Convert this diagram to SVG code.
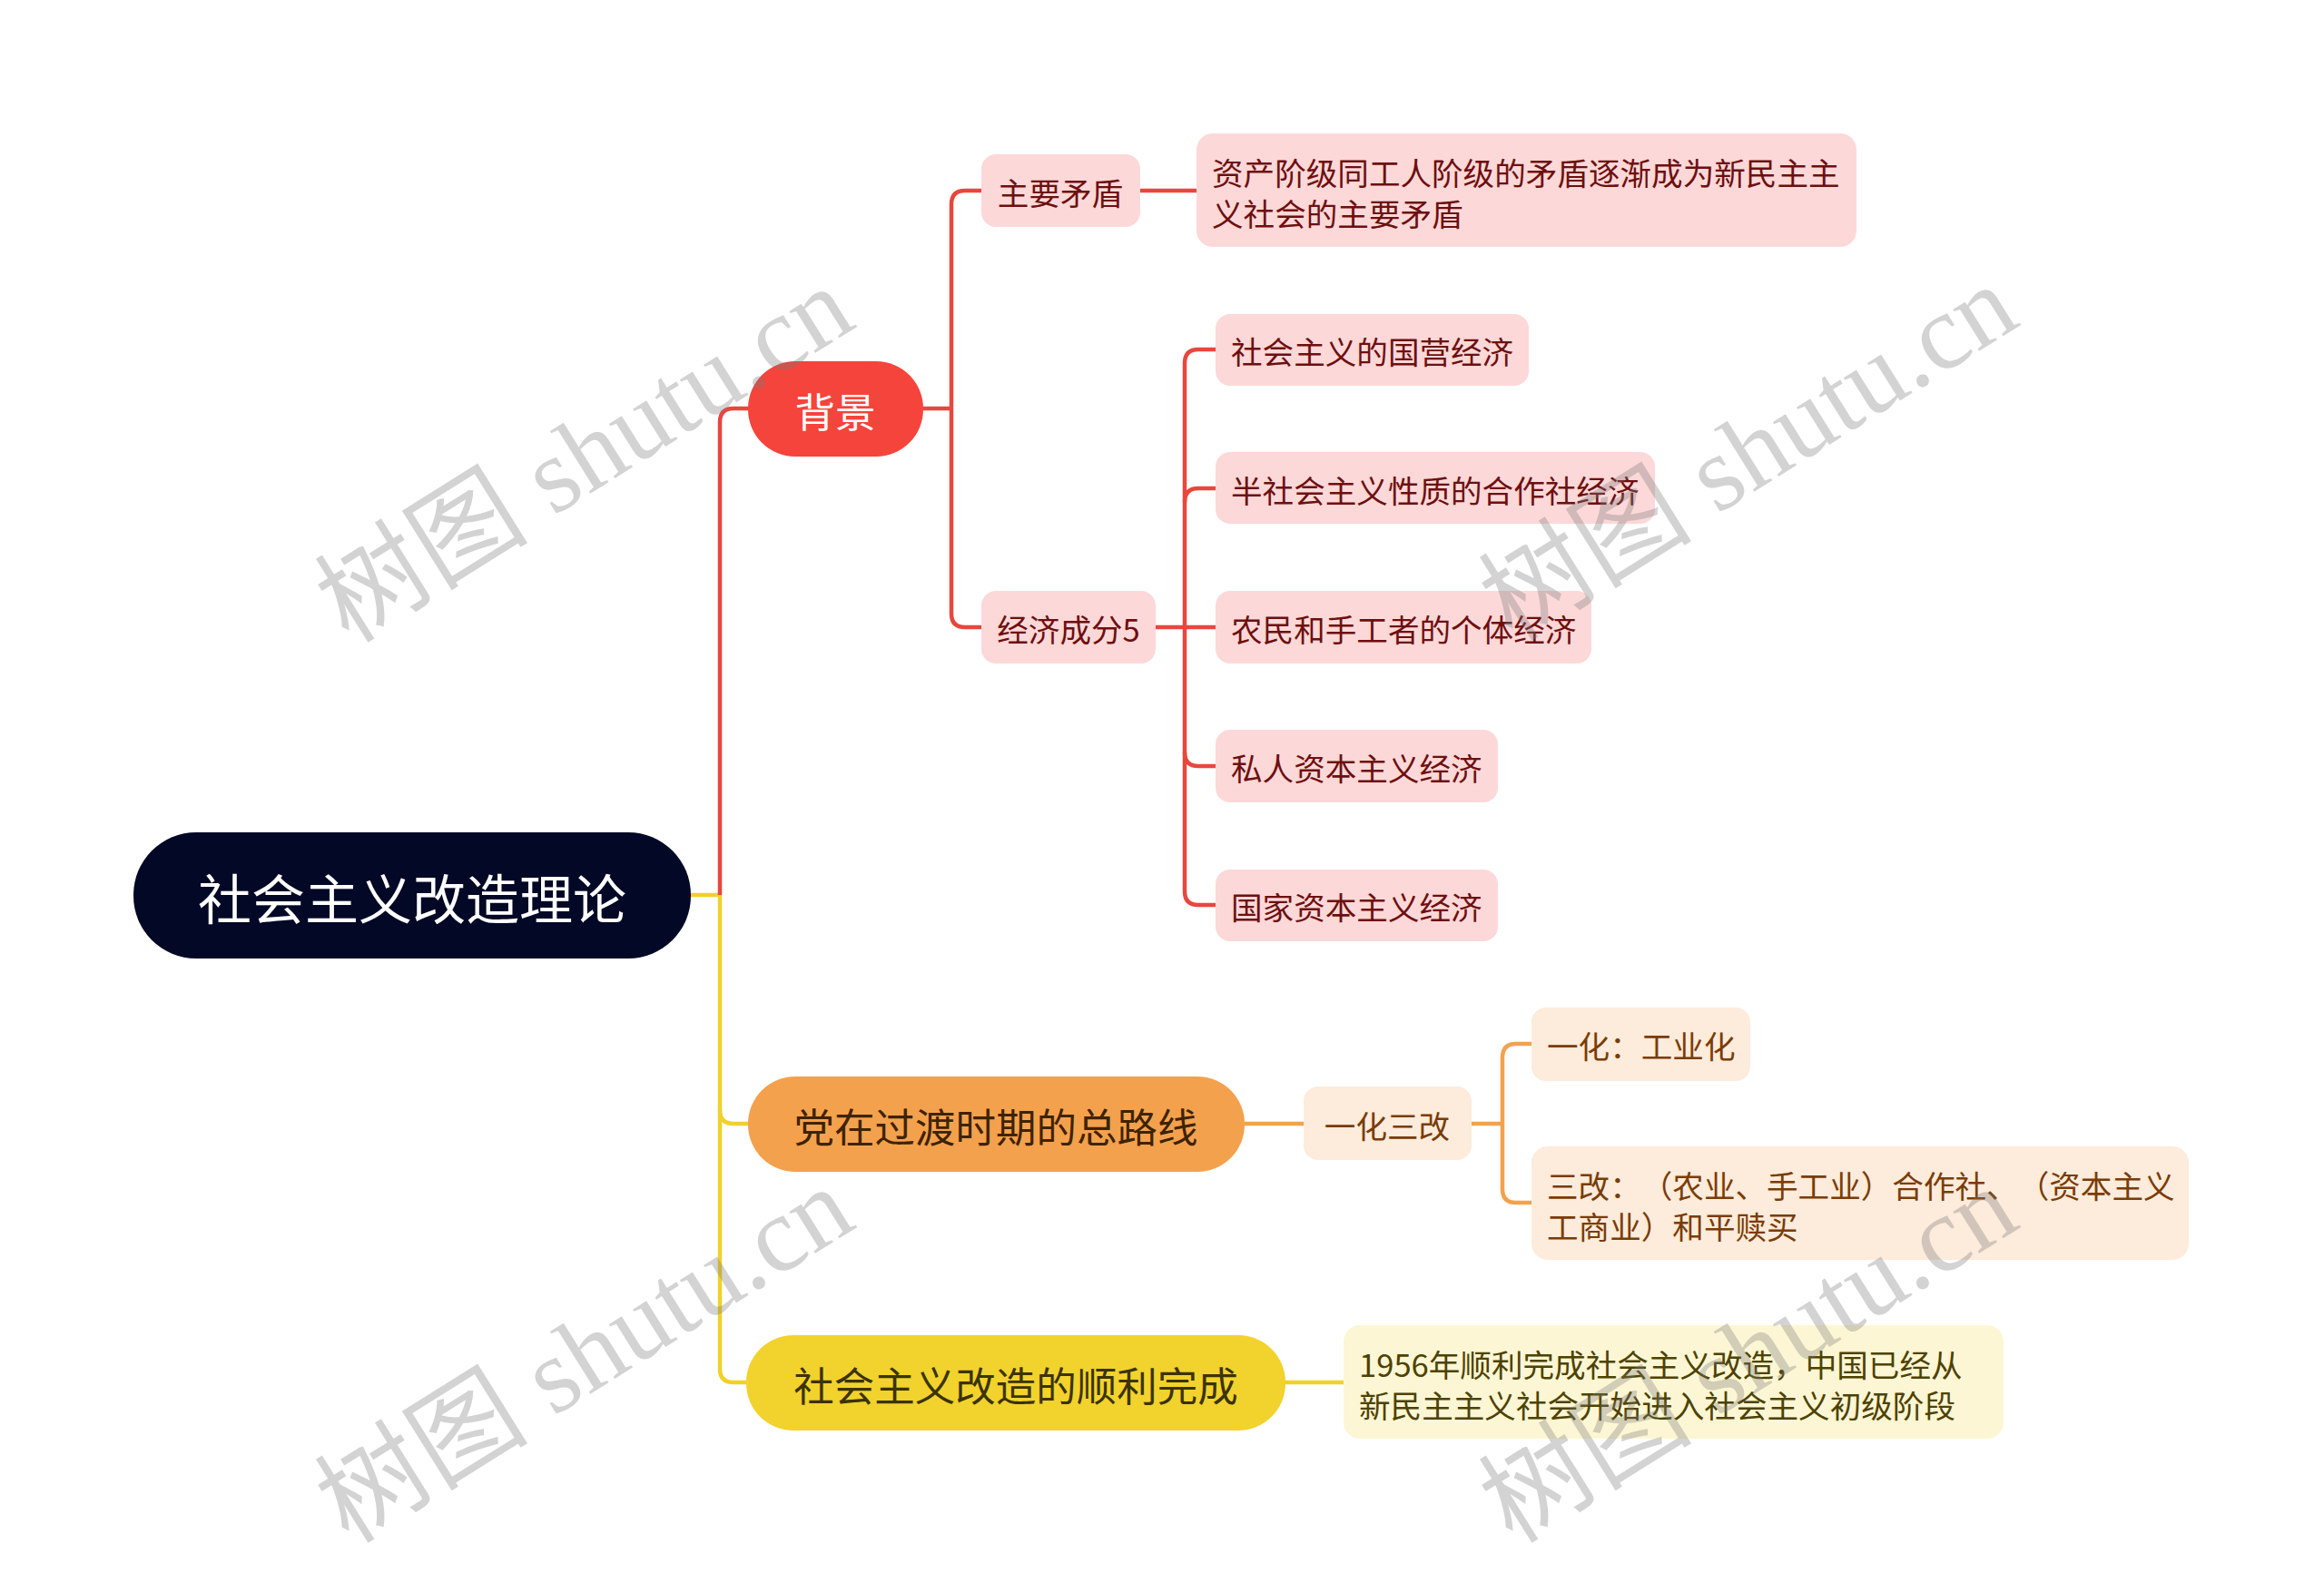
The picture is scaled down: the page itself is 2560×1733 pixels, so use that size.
<svg xmlns="http://www.w3.org/2000/svg" width="2560" height="1733" viewBox="0 0 2560 1733">
<style>
text{font-family:"Noto Sans CJK SC","Noto Sans",sans-serif;dominant-baseline:central;text-spacing-trim:space-all}
.c{text-anchor:middle}
.root{font-size:59px;fill:#ffffff}
.l1{font-size:44.5px}
.l2{font-size:34.6px}
.red{fill:none;stroke:#e8473e;stroke-width:4.5}
.org{fill:none;stroke:#f2a24e;stroke-width:4.5}
.yel{fill:none;stroke:#f0d12a;stroke-width:4.5}
.pk{fill:#fdd8d8}
.pkt{fill:#6e0f0f}
.pc{fill:#fdebdb}
.pct{fill:#7a3c05}
.ly{fill:#fdf6d4}
.lyt{fill:#4d4200}
.wm{font-family:"Liberation Serif","Noto Sans CJK SC",serif;font-size:118px;fill:#7a7a7a;fill-opacity:0.33;text-anchor:middle;dominant-baseline:central}
</style>
<rect width="2560" height="1733" fill="#ffffff"/>
<g id="connectors">
<path class="yel" d="M761 986 H793"/>
<path class="red" d="M793 986 V465 Q793 450 808 450 H826"/>
<path class="yel" d="M793 986 V1508 Q793 1523 808 1523 H822"/>
<path class="yel" d="M793 1223 Q793 1238 808 1238 H826"/>
<path class="red" d="M1017 450 H1048"/>
<path class="red" d="M1083 210 H1063 Q1048 210 1048 225 V676 Q1048 691 1063 691 H1083"/>
<path class="red" d="M1256 210 H1320"/>
<path class="red" d="M1273 691 H1340"/>
<path class="red" d="M1340 385 H1320 Q1305 385 1305 400 V982 Q1305 997 1320 997 H1340"/>
<path class="red" d="M1305 553 Q1305 538 1320 538 H1340"/>
<path class="red" d="M1305 829 Q1305 844 1320 844 H1340"/>
<path class="org" d="M1371 1238 H1437"/>
<path class="org" d="M1621 1238 H1655"/>
<path class="org" d="M1689 1150 H1670 Q1655 1150 1655 1165 V1310 Q1655 1325 1670 1325 H1689"/>
<path class="yel" d="M1415 1523 H1482"/>
</g>
<g id="root">
<rect x="147" y="917" width="614" height="139" rx="69" fill="#020826"/>
<text class="root c" x="454" y="987">社会主义改造理论</text>
</g>
<g id="n-beijing">
<rect x="824" y="398" width="193" height="105" rx="52" fill="#f5443b"/>
<text class="l1 c" x="920" y="451" fill="#ffffff">背景</text>
</g>
<g id="n-zhuyaomaodun">
<rect class="pk" x="1081" y="170" width="175" height="80" rx="16"/>
<text class="l2 c pkt" x="1168" y="211">主要矛盾</text>
</g>
<g id="n-maodun-detail">
<rect class="pk" x="1318" y="147" width="727" height="125" rx="18"/>
<text class="l2 pkt" x="1335" y="189">资产阶级同工人阶级的矛盾逐渐成为新民主主</text>
<text class="l2 pkt" x="1335" y="234">义社会的主要矛盾</text>
</g>
<g id="n-jingji5">
<rect class="pk" x="1081" y="651" width="192" height="80" rx="16"/>
<text class="l2 c pkt" x="1177" y="692">经济成分5</text>
</g>
<g id="n-e1">
<rect class="pk" x="1339" y="346" width="345" height="79" rx="16"/>
<text class="l2 pkt" x="1356" y="386">社会主义的国营经济</text>
</g>
<g id="n-e2">
<rect class="pk" x="1339" y="498" width="484" height="79" rx="16"/>
<text class="l2 pkt" x="1356" y="539">半社会主义性质的合作社经济</text>
</g>
<g id="n-e3">
<rect class="pk" x="1339" y="651" width="414" height="80" rx="16"/>
<text class="l2 pkt" x="1356" y="692">农民和手工者的个体经济</text>
</g>
<g id="n-e4">
<rect class="pk" x="1339" y="804" width="311" height="80" rx="16"/>
<text class="l2 pkt" x="1356" y="845">私人资本主义经济</text>
</g>
<g id="n-e5">
<rect class="pk" x="1339" y="958" width="311" height="79" rx="16"/>
<text class="l2 pkt" x="1356" y="998">国家资本主义经济</text>
</g>
<g id="n-zongluxian">
<rect x="824" y="1186" width="547" height="105" rx="52" fill="#f4a14d"/>
<text class="l1 c" x="1097" y="1239" fill="#3e2300">党在过渡时期的总路线</text>
</g>
<g id="n-yihuasangai">
<rect class="pc" x="1436" y="1197" width="185" height="81" rx="16"/>
<text class="l2 c pct" x="1528" y="1239">一化三改</text>
</g>
<g id="n-yihua">
<rect class="pc" x="1687" y="1110" width="241" height="81" rx="16"/>
<text class="l2 pct" x="1704" y="1151">一化：工业化</text>
</g>
<g id="n-sangai">
<rect class="pc" x="1687" y="1263" width="724" height="125" rx="18"/>
<text class="l2 pct" x="1704" y="1305">三改：（农业、手工业）合作社、（资本主义</text>
<text class="l2 pct" x="1704" y="1350">工商业）和平赎买</text>
</g>
<g id="n-wancheng">
<rect x="822" y="1471" width="594" height="105" rx="52" fill="#f2d22c"/>
<text class="l1 c" x="1119" y="1524" fill="#3b3300">社会主义改造的顺利完成</text>
</g>
<g id="n-1956">
<rect class="ly" x="1480" y="1460" width="727" height="125" rx="18"/>
<text class="l2 lyt" x="1497" y="1502">1956年顺利完成社会主义改造，中国已经从</text>
<text class="l2 lyt" x="1497" y="1547">新民主主义社会开始进入社会主义初级阶段</text>
</g>
<g id="watermarks">
<text class="wm" transform="translate(644 501) rotate(-32)">树图 shutu.cn</text>
<text class="wm" transform="translate(1926 499) rotate(-32)">树图 shutu.cn</text>
<text class="wm" transform="translate(644 1493) rotate(-32)">树图 shutu.cn</text>
<text class="wm" transform="translate(1926 1493) rotate(-32)">树图 shutu.cn</text>
</g>
</svg>
